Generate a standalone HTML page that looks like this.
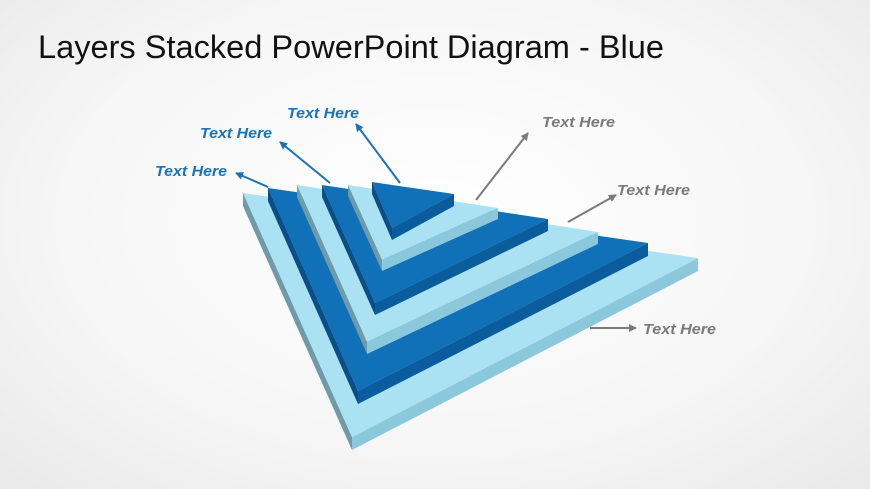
<!DOCTYPE html>
<html><head><style>
body{margin:0;width:870px;height:489px;overflow:hidden;background:radial-gradient(ellipse at 50% 45%,#ffffff 0%,#f6f6f6 60%,#e9e9e9 100%);font-family:"Liberation Sans",sans-serif;}
</style></head><body>
<svg width="870" height="489" xmlns="http://www.w3.org/2000/svg" style="position:absolute;left:0;top:0">
<defs>
<marker id="ab" markerWidth="8" markerHeight="8" refX="7" refY="4" orient="auto" markerUnits="userSpaceOnUse"><path d="M0,0 L8,4 L0,8 Z" fill="#1a72b8"/></marker>
<marker id="ag" markerWidth="8" markerHeight="8" refX="7" refY="4" orient="auto" markerUnits="userSpaceOnUse"><path d="M0,0 L8,4 L0,8 Z" fill="#7a7a7a"/></marker>
</defs>
<text x="38" y="58" font-size="32" fill="#111" textLength="626" lengthAdjust="spacingAndGlyphs">Layers Stacked PowerPoint Diagram - Blue</text>

<polygon points="243,193 352,437 352,450 243,206" fill="#6f9aa8"/>
<polygon points="698,258 352,437 352,450 698,271" fill="#8cc8dc"/>
<polygon points="243,193 698,258 352,437" fill="#aae2f4"/>
<polygon points="268,188 358,391 358,404 268,201" fill="#0a4e85"/>
<polygon points="648,243 358,391 358,404 648,256" fill="#0b5c9c"/>
<polygon points="268,188 648,243 358,391" fill="#1070b8"/>
<polygon points="297,185 367,342 367,354 297,197" fill="#6f9aa8"/>
<polygon points="598,232 367,342 367,354 598,244" fill="#8cc8dc"/>
<polygon points="297,185 598,232 367,342" fill="#aae2f4"/>
<polygon points="322,185 375,303 375,315 322,197" fill="#0a4e85"/>
<polygon points="548,219 375,303 375,315 548,231" fill="#0b5c9c"/>
<polygon points="322,185 548,219 375,303" fill="#1070b8"/>
<polygon points="348,185 382,260 382,271 348,196" fill="#6f9aa8"/>
<polygon points="498,208 382,260 382,271 498,219" fill="#8cc8dc"/>
<polygon points="348,185 498,208 382,260" fill="#aae2f4"/>
<polygon points="372,182 392,228 392,240 372,194" fill="#0a4e85"/>
<polygon points="454,194 392,228 392,240 454,206" fill="#0b5c9c"/>
<polygon points="372,182 454,194 392,228" fill="#1070b8"/>

<g stroke="#1a72b8" stroke-width="2" fill="none">
<line x1="268" y1="187" x2="236" y2="173" marker-end="url(#ab)"/>
<line x1="330" y1="183" x2="280" y2="142" marker-end="url(#ab)"/>
<line x1="400" y1="183" x2="356" y2="124" marker-end="url(#ab)"/>
</g>
<g stroke="#7a7a7a" stroke-width="2" fill="none">
<line x1="476" y1="200" x2="528" y2="133" marker-end="url(#ag)"/>
<line x1="568" y1="222" x2="616" y2="195" marker-end="url(#ag)"/>
<line x1="590" y1="328" x2="636" y2="328" marker-end="url(#ag)"/>
</g>
<g font-size="15" font-weight="bold" font-style="italic">
<text x="155" y="176" fill="#1a72b8" textLength="72" lengthAdjust="spacingAndGlyphs">Text Here</text>
<text x="200" y="138" fill="#1a72b8" textLength="72" lengthAdjust="spacingAndGlyphs">Text Here</text>
<text x="287" y="118" fill="#1a72b8" textLength="72" lengthAdjust="spacingAndGlyphs">Text Here</text>
<text x="542" y="127" fill="#7a7a7a" textLength="73" lengthAdjust="spacingAndGlyphs">Text Here</text>
<text x="617" y="195" fill="#7a7a7a" textLength="73" lengthAdjust="spacingAndGlyphs">Text Here</text>
<text x="643" y="334" fill="#7a7a7a" textLength="73" lengthAdjust="spacingAndGlyphs">Text Here</text>
</g>
</svg>
</body></html>
